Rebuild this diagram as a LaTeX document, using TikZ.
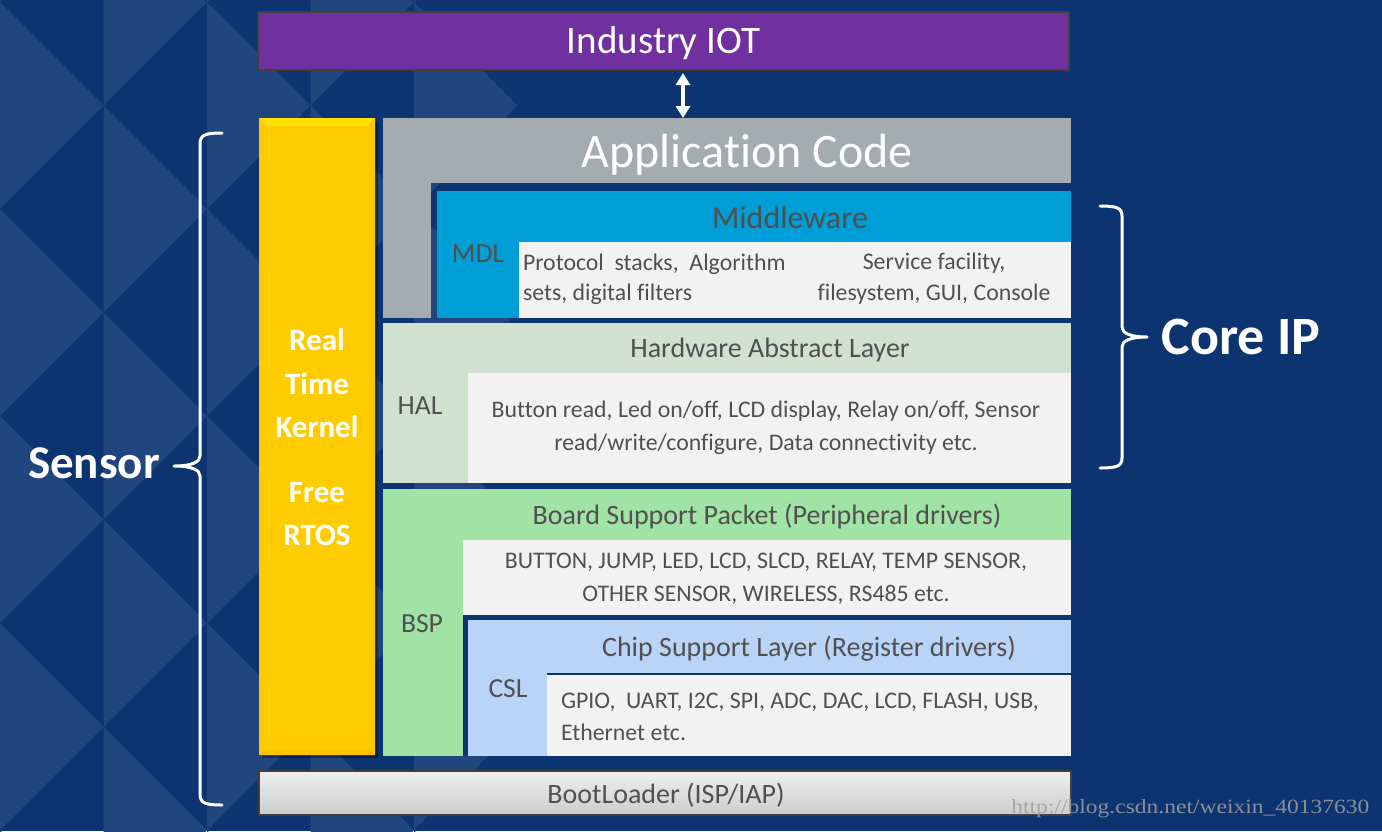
\documentclass[tikz,border=0pt]{standalone}
\usepackage{fontspec}
\setmainfont{Carlito}[Ligatures={NoCommon}]
\newfontfamily\wmfont{Liberation Serif}
\usetikzlibrary{arrows.meta}
\definecolor{bg}{HTML}{0C3471}
\definecolor{lite}{HTML}{21467D}
\definecolor{iotpurple}{HTML}{7030A0}
\definecolor{edgegray}{HTML}{404040}
\definecolor{appgray}{HTML}{A5ACAF}
\definecolor{mdlblue}{HTML}{009ED6}
\definecolor{halgreen}{HTML}{D0E1D0}
\definecolor{bspgreen}{HTML}{A1E2A5}
\definecolor{cslblue}{HTML}{B9D4F7}
\definecolor{panel}{HTML}{F2F2F2}
\definecolor{txtgray}{HTML}{505050}
\definecolor{rtkyellow}{HTML}{FFCC00}
\begin{document}
\begin{tikzpicture}[x=0.5pt,y=-0.5pt,
  lbl/.style={inner sep=0pt, outer sep=0pt, text=txtgray},
  hdr/.style={lbl, font=\fontsize{14pt}{16pt}\selectfont},
  tag/.style={lbl, font=\fontsize{13.8pt}{16pt}\selectfont},
  body/.style={lbl, font=\fontsize{11.9pt}{16.5pt}\selectfont, align=center},
  bodyl/.style={lbl, font=\fontsize{11.9pt}{16pt}\selectfont, align=left, anchor=west},
  rtk/.style={inner sep=0pt, text=white, align=center, font=\bfseries\fontsize{15.5pt}{21.8pt}\selectfont},
  big/.style={inner sep=0pt, text=white, font=\bfseries\fontsize{23.5pt}{28pt}\selectfont},
  bracestyle/.style={draw=white, line width=1.5pt, line cap=round, line join=round},
  dblarrow/.style={draw=white, line width=2pt, {Triangle[width=7pt,length=6pt]}-{Triangle[width=7pt,length=6pt]}}
]
\useasboundingbox (0,0) rectangle (1382,831);
\fill[bg] (0,0) rectangle (1382,831);
% background facets
\def\aa{103.5}
\foreach \k in {0,...,4}{
  \foreach \j in {-1,...,4}{
    \pgfmathsetmacro{\ay}{(mod(\k,2)==0 ? \aa : 0) + 2*\aa*\j + 2}
    \fill[lite] ({\k*\aa},{\ay-\aa}) -- ({(\k+1)*\aa},{\ay}) -- ({\k*\aa},{\ay+\aa}) -- cycle;
  }
}
% Industry IOT
\node[fill=iotpurple, draw=edgegray, line width=1pt, minimum width=405.5pt, minimum height=29pt, inner sep=0pt] (iot) at (663.5,41) {};
\node[inner sep=0pt, text=white, font=\fontsize{19.5pt}{23pt}\selectfont] (tIOT) at (663.5,43) {Industry IOT};
% Real time kernel bar
\fill[black, opacity=0.35] (262,121) rectangle (378,758);
\fill[rtkyellow] (259,118) rectangle (375,755);
\fill[yellow!60!rtkyellow] (259,118) -- (375,118) -- (367,126) -- (267,126) -- cycle;
\fill[rtkyellow!92!orange] (375,118) -- (375,755) -- (370,749) -- (370,123) -- cycle;
\fill[rtkyellow!85!orange] (259,755) -- (375,755) -- (370,749) -- (264,749) -- cycle;
\fill[rtkyellow!95!orange] (259,118) -- (264,123) -- (264,749) -- (259,755) -- cycle;
\node[rtk] (rtkA) at (317,383.5) {Real\\Time\\Kernel};
\node[rtk] (rtkB) at (317,514) {Free\\RTOS};
% Application code
\fill[appgray] (383,118) rectangle (431,318);
\node[fill=appgray, minimum width=344pt, minimum height=32.5pt, inner sep=0pt, anchor=north west] (app) at (383,118) {};
\node[inner sep=0pt, text=white, font=\fontsize{24pt}{28pt}\selectfont] (tApp) at (747,155) {Application Code};
% Middleware
\fill[mdlblue] (437,191) rectangle (1071,318);
\fill[panel] (519,242) rectangle (1071,318);
\node[lbl, font=\fontsize{16pt}{18pt}\selectfont] (tMid) at (790,218) {Middleware};
\node[tag] (tMDL) at (478,254) {MDL};
\node[bodyl] (tProt) at (523,279.5) {Protocol\ \ stacks,\ \ Algorithm\\[-1pt]sets, digital filters};
\node[body] (tServ) at (934,278.5) {Service facility,\\[-1pt]filesystem, GUI, Console};
% HAL
\fill[halgreen] (383,323) rectangle (1071,483);
\fill[panel] (468,373) rectangle (1071,483);
\node[hdr] (tHALh) at (770,350) {Hardware Abstract Layer};
\node[tag] (tHAL) at (420,406) {HAL};
\node[body] (tHALb) at (766,428) {Button read, Led on/off, LCD display, Relay on/off, Sensor\\read/write/configure, Data connectivity etc.};
% BSP
\fill[bspgreen] (383,489) rectangle (1071,756);
\fill[panel] (463,540) rectangle (1071,615);
\fill[bg] (463,615) rectangle (1071,756);
\node[hdr] (tBSPh) at (767,517) {Board Support Packet (Peripheral drivers)};
\node[tag] (tBSP) at (422,624) {BSP};
\node[body] (tBSPb) at (766,579) {BUTTON, JUMP, LED, LCD, SLCD, RELAY, TEMP SENSOR,\\OTHER SENSOR, WIRELESS, RS485 etc.};
% CSL
\fill[cslblue] (468,620) rectangle (1071,756);
\fill[panel] (547,674) rectangle (1071,756);
\draw[bg, line width=0.6pt] (547,674) -- (1071,674);
\node[hdr] (tCSLh) at (809,649) {Chip Support Layer (Register drivers)};
\node[tag] (tCSL) at (508,689) {CSL};
\node[bodyl] (tCSLb) at (561,717) {GPIO,\ \ UART, I2C, SPI, ADC, DAC, LCD, FLASH, USB,\\Ethernet etc.};
% BootLoader
\node[top color=gray!12, bottom color=gray!40, draw=edgegray, line width=1pt, minimum width=406pt, minimum height=22pt,
  inner sep=0pt] (boot) at (665,793) {};
\node[lbl, font=\fontsize{14pt}{16pt}\selectfont] (tBoot) at (666,795) {BootLoader (ISP/IAP)};
% arrow between Industry IOT and application code
\coordinate (ax) at (683,0);
\draw[dblarrow] (iot.south -| ax) ++(0,2) -- (app.north -| ax);
% braces
\draw[bracestyle] (222,133) .. controls (205,133) and (200,135) .. (200,144) -- (200,456)
  .. controls (200,462) and (192,466) .. (174,466) .. controls (192,466) and (200,470) .. (200,476)
  -- (200,794) .. controls (200,803) and (205,805) .. (222,805);
\draw[bracestyle] (1100,206) .. controls (1117,206) and (1122,208) .. (1122,216) -- (1122,327)
  .. controls (1122,333) and (1130,337) .. (1147,337) .. controls (1130,337) and (1122,341) .. (1122,347)
  -- (1122,458) .. controls (1122,466) and (1117,468) .. (1100,468);
\node[big] (tSensor) at (94,463) {Sensor};
\node[big, font=\bfseries\fontsize{27pt}{32pt}\selectfont] (tCore) at (1241,337) {Core IP};
% watermark
\node[inner sep=0pt, text=gray!75, opacity=0.85, anchor=south west] (tWM) at (1011,818)
  {\resizebox{179pt}{7pt}{\wmfont http://blog.csdn.net/weixin\_40137630}};
\end{tikzpicture}
\end{document}
